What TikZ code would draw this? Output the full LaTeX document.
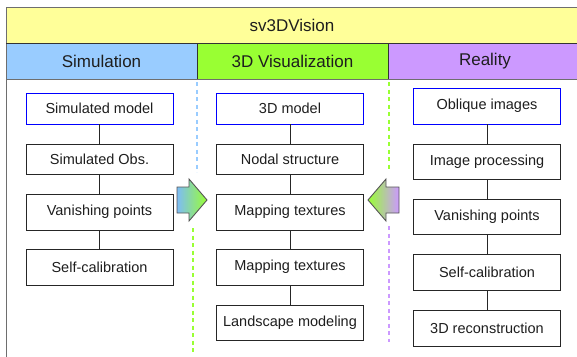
\documentclass[tikz,border=0pt]{standalone}
\usepackage{fontspec}
\setmainfont{Liberation Sans}
\usepackage{xcolor}

\definecolor{titleyellow}{RGB}{255,255,153}
\definecolor{simblue}{RGB}{153,204,255}
\definecolor{visgreen}{RGB}{153,255,51}
\definecolor{realpurple}{RGB}{204,153,255}
\definecolor{arrowblue}{RGB}{125,188,245}
\definecolor{framegray}{RGB}{110,110,110}
\definecolor{arrowgray}{RGB}{85,85,85}
\definecolor{textgray}{RGB}{30,30,30}

\tikzset{
  stepbox/.style={draw=black!85, fill=white, line width=0.8pt, minimum width=147pt,
    minimum height=35pt, inner sep=0pt, text=textgray, font=\fontsize{14.5}{17}\selectfont},
  inputbox/.style={stepbox, draw=blue},
  headtext/.style={text=textgray, font=\fontsize{17}{20}\selectfont},
  sep/.style={dash pattern=on 4pt off 3.5pt, line width=1.1pt},
  flow/.style={draw=black!85, line width=0.8pt},
}

\begin{document}
\begin{tikzpicture}[x=1pt,y=1pt,yscale=-1,xscale=1]
\useasboundingbox (0,0) rectangle (577,356);
\clip (0,0) rectangle (577,356);

%Shape: title and header bands
\path[fill=titleyellow] (6,7) rectangle (583,43);
\path[fill=simblue] (6,43) rectangle (197,79);
\path[fill=visgreen] (197,43) rectangle (388,79);
\path[fill=realpurple] (388,43) rectangle (583,79);
\draw[framegray, line width=1pt] (6,362) -- (6,7) -- (583,7);
\draw[black!80, line width=0.8pt] (6,43) -- (583,43);
\draw[black!80, line width=0.8pt] (197,43) -- (197,79) (388,43) -- (388,79);
\draw[framegray, line width=1pt] (6,79) -- (583,79);

% Text Node
\node[headtext] (title) at (292,25) {sv3DVision};
\node[headtext] (simhead) at (101.5,61) {Simulation};
\node[headtext] (vishead) at (292.5,61) {3D Visualization};
\node[headtext] (realhead) at (485,61) {Reality};

%Straight Lines: column separators
\draw[sep, simblue] (197,82) -- (197,172);
\draw[sep, visgreen] (193,228) -- (193,352);
\draw[sep, visgreen] (389,82) -- (389,170);
\draw[sep, realpurple] (389,226) -- (389,342);

%Shape: simulation column
\node[inputbox, minimum height=31pt] (simmodel) at (99.5,108.5) {Simulated model};
\node[stepbox, minimum height=30pt] (simobs) at (99.5,159) {Simulated Obs.};
\node[stepbox, minimum height=36pt] (simvp) at (99.5,212) {Vanishing points};
\node[stepbox, minimum height=36pt] (simcal) at (99.5,267) {Self-calibration};

%Shape: visualization column
\node[inputbox, minimum height=31pt] (model3d) at (290,108.5) {3D model};
\node[stepbox, minimum height=30pt] (nodal) at (290,159) {Nodal structure};
\node[stepbox, minimum height=36pt] (maptex) at (290,212) {Mapping textures};
\node[stepbox, minimum height=36pt] (maptexb) at (290,267) {Mapping textures};
\node[stepbox] (landscape) at (290,322.5) {Landscape modeling};

%Shape: reality column
\node[inputbox, minimum height=36pt] (oblique) at (487,106) {Oblique images};
\node[stepbox] (improc) at (487,161.5) {Image processing};
\node[stepbox] (realvp) at (487,216.5) {Vanishing points};
\node[stepbox, minimum height=36pt] (realcal) at (487,272) {Self-calibration};
\node[stepbox, minimum height=36pt] (recon) at (487,328) {3D reconstruction};

%Straight Lines
\draw[flow] (simmodel) -- (simobs);
\draw[flow] (simobs) -- (simvp);
\draw[flow] (simvp) -- (simcal);
\draw[flow] (model3d) -- (nodal);
\draw[flow] (nodal) -- (maptex);
\draw[flow] (maptex) -- (maptexb);
\draw[flow] (maptexb) -- (landscape);
\draw[flow] (oblique) -- (improc);
\draw[flow] (improc) -- (realvp);
\draw[flow] (realvp) -- (realcal);
\draw[flow] (realcal) -- (recon);

%Shape: block arrows
\shadedraw[left color=arrowblue, right color=visgreen, draw=arrowgray, line width=0.9pt]
  (177,187) -- (189,187) -- (189,179) -- (207,200) -- (189,221) -- (189,213) -- (177,213) -- cycle;
\shadedraw[left color=visgreen, right color=realpurple, draw=arrowgray, line width=0.9pt]
  (399,187) -- (386,187) -- (386,179) -- (368,200) -- (386,221) -- (386,213) -- (399,213) -- cycle;

\end{tikzpicture}
\end{document}
